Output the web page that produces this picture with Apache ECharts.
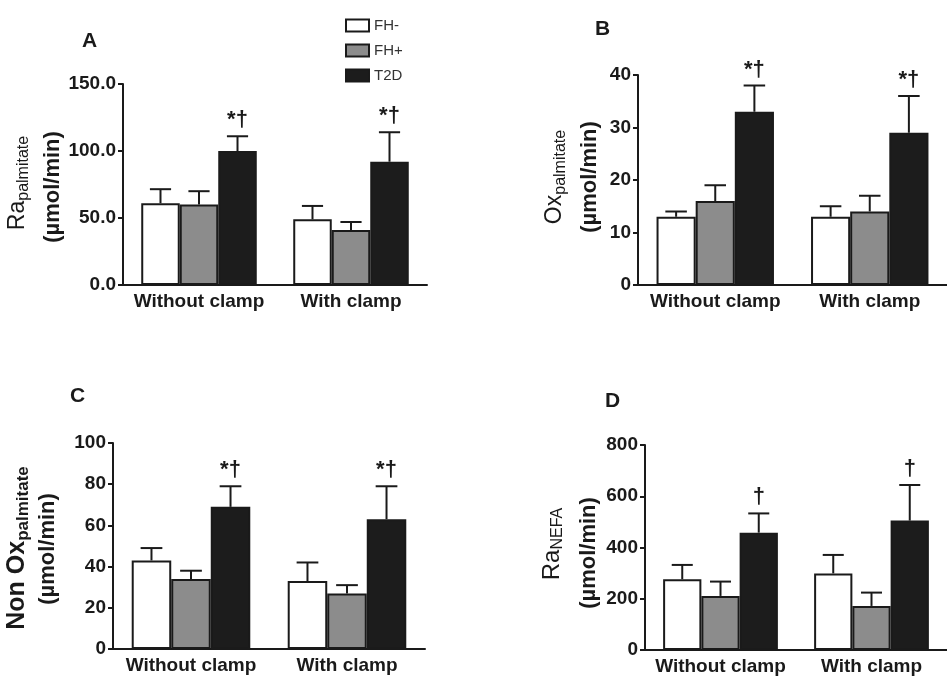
<!DOCTYPE html>
<html>
<head>
<meta charset="utf-8">
<script src="https://cdn.jsdelivr.net/npm/echarts@6/dist/echarts.min.js"></script>
<style>html,body{margin:0;padding:0;background:#fff}#c{width:947px;height:678px}</style>
</head>
<body>
<div id="c"></div>
<script>
// ---------- data ----------
const categories = ['Without clamp', 'With clamp'];
const groups = ['FH-', 'FH+', 'T2D'];

// Panel A: Ra palmitate
const aFHminus = [61, 49];
const aFHplus = [60, 41];
const aT2D = [100, 92];
const aFHminusErr = [71.5, 59];
const aFHplusErr = [70, 47];
const aT2DErr = [111, 114];
const aSig = ['*\u2020', '*\u2020'];
const aTicks = [0, 50, 100, 150];

// Panel B: Ox palmitate
const bFHminus = [13, 13];
const bFHplus = [16, 14];
const bT2D = [33, 29];
const bFHminusErr = [14, 15];
const bFHplusErr = [19, 17];
const bT2DErr = [38, 36];
const bSig = ['*\u2020', '*\u2020'];
const bTicks = [0, 10, 20, 30, 40];

// Panel C: Non Ox palmitate
const cFHminus = [43, 33];
const cFHplus = [34, 27];
const cT2D = [69, 63];
const cFHminusErr = [49, 42];
const cFHplusErr = [38, 31];
const cT2DErr = [79, 79];
const cSig = ['*\u2020', '*\u2020'];
const cTicks = [0, 20, 40, 60, 80, 100];

// Panel D: Ra NEFA
const dFHminus = [276, 299];
const dFHplus = [211, 172];
const dT2D = [458, 505];
const dFHminusErr = [332, 371];
const dFHplusErr = [267, 224];
const dT2DErr = [533, 644];
const dSig = ['\u2020', '\u2020'];
const dTicks = [0, 200, 400, 600, 800];

// ---------- layout / style ----------
const FONT = '"Liberation Sans", Arial, Helvetica, sans-serif';
const INK = '#1a1a1a';
const FILLS = ['#ffffff', '#8c8c8c', '#1c1c1c'];
const GAP = 0.24;

const panels = [
  { vals: [aFHminus, aFHplus, aT2D], errs: [aFHminusErr, aFHplusErr, aT2DErr], sig: aSig, ticks: aTicks, dec: 1,
    grid: { left: 123, top: 84, width: 304, height: 201 } },
  { vals: [bFHminus, bFHplus, bT2D], errs: [bFHminusErr, bFHplusErr, bT2DErr], sig: bSig, ticks: bTicks, dec: 0,
    grid: { left: 638, top: 75, width: 314, height: 210 } },
  { vals: [cFHminus, cFHplus, cT2D], errs: [cFHminusErr, cFHplusErr, cT2DErr], sig: cSig, ticks: cTicks, dec: 0,
    grid: { left: 113, top: 443, width: 312, height: 206 } },
  { vals: [dFHminus, dFHplus, dT2D], errs: [dFHminusErr, dFHplusErr, dT2DErr], sig: dSig, ticks: dTicks, dec: 0,
    grid: { left: 645, top: 445, width: 306, height: 205 } }
];

const grid = [], xAxis = [], yAxis = [], series = [];

panels.forEach((p, pi) => {
  grid.push(Object.assign({ containLabel: false }, p.grid));
  xAxis.push({
    type: 'category', gridIndex: pi, data: categories,
    axisLine: { lineStyle: { color: INK, width: 2 } },
    axisTick: { alignWithLabel: true, length: 5, lineStyle: { color: INK, width: 2 } },
    axisLabel: { interval: 0, hideOverlap: false, color: INK, fontSize: 19, fontWeight: 'bold', fontFamily: FONT, margin: 7 },
    splitLine: { show: false }
  });
  const t = p.ticks;
  yAxis.push({
    type: 'value', gridIndex: pi, min: t[0], max: t[t.length - 1], interval: t[1] - t[0],
    axisLine: { show: true, lineStyle: { color: INK, width: 2 } },
    axisTick: { show: true, length: 5, lineStyle: { color: INK, width: 2 } },
    axisLabel: { color: INK, fontSize: 19, fontWeight: 'bold', fontFamily: FONT, margin: 7,
      formatter: v => v.toFixed(p.dec) },
    splitLine: { show: false }
  });
  groups.forEach((g, k) => {
    series.push({
      type: 'bar', name: g, xAxisIndex: pi, yAxisIndex: pi, data: p.vals[k],
      barGap: '0%', barCategoryGap: (GAP * 100) + '%',
      itemStyle: { color: FILLS[k], borderColor: INK, borderWidth: 2 },
      emphasis: { disabled: true }, silent: true, z: 2
    });
  });
  const errData = [];
  groups.forEach((g, k) => {
    categories.forEach((c, ci) => { errData.push([ci, p.vals[k][ci], p.errs[k][ci], k]); });
  });
  series.push({
    type: 'custom', xAxisIndex: pi, yAxisIndex: pi, data: errData, z: 3, silent: true,
    renderItem: (params, api) => {
      const ci = api.value(0), v = api.value(1), e = api.value(2), k = api.value(3);
      const base = api.coord([ci, v]);
      const top = api.coord([ci, e]);
      const band = api.size([1, 0])[0];
      const gw = band * (1 - GAP), bw = gw / 3;
      const x = base[0] - gw / 2 + (k + 0.5) * bw;
      const cw = bw * 0.55;
      const children = [
        { type: 'line', shape: { x1: x, y1: base[1], x2: x, y2: top[1] }, style: { stroke: INK, lineWidth: 2 } },
        { type: 'line', shape: { x1: x - cw / 2, y1: top[1], x2: x + cw / 2, y2: top[1] }, style: { stroke: INK, lineWidth: 2 } }
      ];
      if (k === 2) {
        children.push({ type: 'text', x: x, y: top[1] - 5,
          style: { text: p.sig[ci], font: 'bold 22px ' + FONT, fill: INK,
            align: 'center', verticalAlign: 'bottom', textAlign: 'center', textVerticalAlign: 'bottom' } });
      }
      return { type: 'group', children };
    }
  });
});

// ---------- rotated axis titles ----------
const mctx = document.createElement('canvas').getContext('2d');
function tw(text, font) { mctx.font = font; return mctx.measureText(text).width; }
function rtext(x, y, text, font, align) {
  return { type: 'text', x, y, rotation: Math.PI / 2, silent: true,
    style: { text, font, fill: INK, align, verticalAlign: 'middle', textAlign: align, textVerticalAlign: 'middle' } };
}
function yTitle(x1, yc1, x2, yc2, main, sub, bold, ms, ss) {
  const fm = (bold ? 'bold ' : '') + ms + 'px ' + FONT;
  const fs = (bold ? 'bold ' : '') + ss + 'px ' + FONT;
  const w1 = tw(main, fm), w2 = tw(sub, fs);
  const start = yc1 + (w1 + w2) / 2;
  return [
    rtext(x1, start, main, fm, 'left'),
    rtext(x1 + 0.25 * ms, start - w1, sub, fs, 'left'),
    rtext(x2, yc2, '(\u00b5mol/min)', 'bold 22px ' + FONT, 'center')
  ];
}
function letter(x, y, t) {
  return { type: 'text', x, y, silent: true,
    style: { text: t, font: 'bold 21px ' + FONT, fill: INK, align: 'left', verticalAlign: 'top', textAlign: 'left', textVerticalAlign: 'top' } };
}

const graphic = [].concat(
  yTitle(18, 183, 53, 187, 'Ra', 'palmitate', false, 23, 16),
  yTitle(555, 177, 590, 177, 'Ox', 'palmitate', false, 23, 16),
  yTitle(17, 548, 48, 549, 'Non Ox', 'palmitate', true, 25, 17),
  yTitle(552, 544, 589, 553, 'Ra', 'NEFA', false, 24, 16),
  [letter(82, 31, 'A'), letter(595, 19, 'B'), letter(70, 386, 'C'), letter(605, 391, 'D')]
);

const chart = echarts.init(document.getElementById('c'), null, { renderer: 'canvas' });
chart.setOption({
  animation: false,
  backgroundColor: '#ffffff',
  textStyle: { fontFamily: FONT },
  legend: {
    data: groups, orient: 'vertical', left: 340, top: 13, icon: 'rect',
    itemWidth: 23, itemHeight: 12, itemGap: 10, selectedMode: false,
    itemStyle: { borderColor: INK, borderWidth: 2 },
    textStyle: { fontSize: 15, color: '#333', fontFamily: FONT }
  },
  grid, xAxis, yAxis, series, graphic
});
</script>
</body>
</html>
